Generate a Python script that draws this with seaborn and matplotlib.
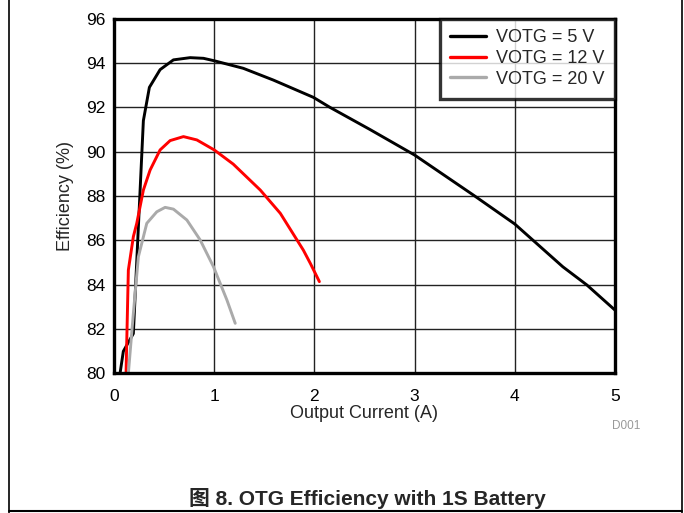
import pandas as pd
import seaborn as sns
import matplotlib.pyplot as plt
from matplotlib.lines import Line2D

# values
x_5v = [0.06, 0.093, 0.193, 0.293, 0.353, 0.46, 0.593, 0.76, 0.893, 1.0, 1.29, 1.59,
        1.99, 2.155, 2.555, 3.0, 3.585, 4.0, 4.48, 4.72, 5.0]
y_5v = [80.0, 81.0, 81.8, 91.4, 92.9, 93.7, 94.14, 94.24, 94.21, 94.1, 93.76, 93.23,
        92.45, 92.0, 91.0, 89.85, 88.05, 86.74, 84.81, 83.99, 82.86]
x_12v = [0.12, 0.143, 0.193, 0.227, 0.293, 0.36, 0.46, 0.56, 0.693, 0.827, 1.0, 1.19,
         1.46, 1.66, 1.89, 1.96, 2.05]
y_12v = [80.0, 84.66, 86.17, 86.77, 88.27, 89.17, 90.08, 90.5, 90.68, 90.53, 90.08, 89.44,
         88.27, 87.22, 85.56, 84.96, 84.14]
x_20v = [0.143, 0.193, 0.243, 0.327, 0.427, 0.51, 0.593, 0.727, 0.86, 0.993, 1.127, 1.21]
y_20v = [80.0, 82.7, 85.26, 86.77, 87.29, 87.49, 87.41, 86.92, 86.02, 84.81, 83.31, 82.26]
labels = ['VOTG = 5 V', 'VOTG = 12 V', 'VOTG = 20 V']
colors = ['#000000', '#ff0000', '#aaaaaa']
xticks = [0, 1, 2, 3, 4, 5]
yticks = [80, 82, 84, 86, 88, 90, 92, 94, 96]

frames = []
for lab, xs, ys in zip(labels, [x_5v, x_12v, x_20v], [y_5v, y_12v, y_20v]):
    frames.append(pd.DataFrame({'Current': xs, 'Efficiency': ys, 'Series': lab}))
df = pd.concat(frames, ignore_index=True)

sns.set_style("white")
plt.rcParams['font.family'] = ['Liberation Sans', 'Noto Sans CJK SC', 'DejaVu Sans']

fig = plt.figure(figsize=(6.84, 5.13), dpi=100)
ax = fig.add_axes([0.1667, 0.272, 0.7323, 0.6917])

sns.lineplot(data=df, x='Current', y='Efficiency', hue='Series', hue_order=labels,
             palette=colors, sort=False, estimator=None, linewidth=2.1, ax=ax, legend=False)

ax.set_xlim(0, 5)
ax.set_ylim(80, 96)
ax.set_xticks(xticks)
ax.set_yticks(yticks)
ax.grid(True, color='#222222', linewidth=1.0)
ax.set_axisbelow(True)
for s in ax.spines.values():
    s.set_linewidth(2.4)
    s.set_color('black')
ax.tick_params(axis='both', labelsize=12.5, length=0, colors='black')
ax.tick_params(axis='x', pad=11)
ax.tick_params(axis='y', pad=6)
ax.set_xlabel('Output Current (A)', fontsize=13, labelpad=1)
ax.set_ylabel('Efficiency (%)', fontsize=13, labelpad=9)

handles = [Line2D([], [], color=c, linewidth=2.4) for c in colors]
leg = ax.legend(handles, labels, loc='upper right', fontsize=13, frameon=True, fancybox=False,
                borderaxespad=0, handlelength=1.95, handletextpad=0.55, labelspacing=0.2,
                borderpad=0.6)
leg.get_frame().set_edgecolor('black')
leg.get_frame().set_linewidth(2.4)

fig.text(0.895, 0.169, 'D001', fontsize=8.5, color='#999999', ha='left', va='center')
fig.text(0.537, 0.028, '图 8. OTG Efficiency with 1S Battery', fontsize=15, fontweight='bold',
         ha='center', va='center')

# outer page frame
fig.add_artist(Line2D([0.0125, 0.0125], [0, 1], color='black', linewidth=1.2, transform=fig.transFigure))
fig.add_artist(Line2D([0.9965, 0.9965], [0, 1], color='black', linewidth=1.2, transform=fig.transFigure))
fig.add_artist(Line2D([0.0125, 0.9965], [0.003, 0.003], color='black', linewidth=1.5, transform=fig.transFigure))

fig.savefig('out.png', dpi=100)
